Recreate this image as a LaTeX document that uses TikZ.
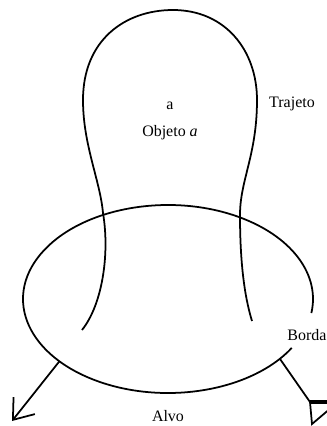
\documentclass[tikz,border=0pt]{standalone}
\usepackage{fontspec}
\setmainfont{Liberation Serif}
\usetikzlibrary{arrows.meta, calc}

\tikzset{
  curva/.style={line width=1.1pt, black},
  rotulo/.style={inner sep=0pt, font=\normalsize}
}

\begin{document}
\begin{tikzpicture}[x=0.022cm, y=-0.022cm]
  \clip (0,0) rectangle (327,426);
  % ---- Trajeto do objeto ----
  \coordinate (inicio) at (82,330);
  \coordinate (fim) at (252,321);
  \draw[curva] (inicio)
    .. controls (102,305) and (110,255) .. (103,213)
    .. controls (100,180) and (83,145) .. (83,100)
    .. controls (83,40) and (125,10) .. (173,10)
    .. controls (225,10) and (257,50) .. (257,100)
    .. controls (257,155) and (240,180) .. (240,215)
    .. controls (240,260) and (244,295) .. (fim);
  % ---- Alvo (elipse com abertura na borda) ----
  \coordinate (centro) at (168,299);
  \draw[curva] (centro) ++(31.4:145 and 94) arc[start angle=31.4, end angle=368.6,
    x radius=145, y radius=94];
  \coordinate (saidaE) at ($(centro)+(138.5:145 and 94)$);
  \coordinate (saidaD) at ($(centro)+(39.5:145 and 94)$);
  % seta para fora, lado esquerdo
  \coordinate (pontaE) at (12,421);
  \draw[curva, -{Straight Barb[length=4mm, width=6mm]}] (saidaE) -- (pontaE);
  % haste com triangulo, lado direito
  \coordinate (baseD) at (310,402);
  \draw[curva] (saidaD) -- (baseD);
  \draw[curva] (baseD) -- (312,424) -- (338,402);
  \draw[line width=2.2pt] (baseD) -- (338,402);
  % ---- R\'otulos ----
  \node[rotulo] (letra) at (170,106) {a};
  \node[rotulo] (objeto) at (170,133) {Objeto \textit{a}};
  \node[rotulo] (trajeto) at (292,104) {Trajeto};
  \node[rotulo] (borda) at (307,335) {Borda};
  \node[rotulo] (alvo) at (168,416) {Alvo};
\end{tikzpicture}
\end{document}
